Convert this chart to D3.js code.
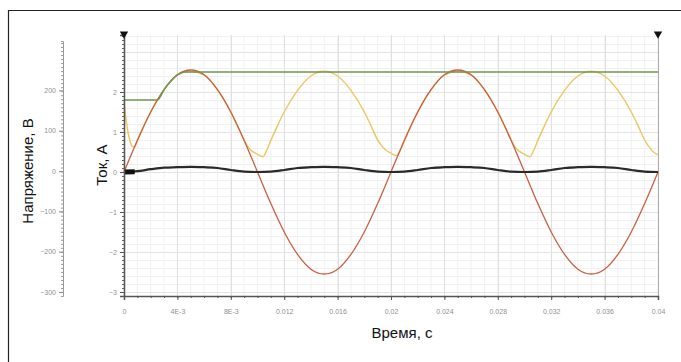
<!DOCTYPE html>
<meta charset="utf-8">
<head>
  <script src="https://d3js.org/d3.v7.min.js"></script>
  <style>
    body { margin: 0; background: #fff; font-family: 'Liberation Sans', Arial, sans-serif; }
  </style>
</head>
<div id="my_dataviz"></div>
<script>
  // ---- data ----
  // red trace (current scale), one value per millisecond
  var redTime = [0,0.001,0.002,0.003,0.004,0.005,0.006,0.007,0.008,0.009,0.01,0.011,0.012,0.013,0.014,0.015,0.016,0.017,0.018,0.019,0.02,
                 0.021,0.022,0.023,0.024,0.025,0.026,0.027,0.028,0.029,0.03,0.031,0.032,0.033,0.034,0.035,0.036,0.037,0.038,0.039,0.04];
  var redValue = [0,0.79,1.50,2.06,2.43,2.55,2.43,2.06,1.50,0.79,0,-0.79,-1.50,-2.06,-2.43,-2.55,-2.43,-2.06,-1.50,-0.79,0,
                  0.79,1.50,2.06,2.43,2.55,2.43,2.06,1.50,0.79,0,-0.79,-1.50,-2.06,-2.43,-2.55,-2.43,-2.06,-1.50,-0.79,0];

  // yellow trace
  var yellowTime = [0,0.0001,0.0002,0.0003,0.0004,0.0005,0.0006,0.0008,0.001,0.0015,0.002,0.003,0.004,0.005,0.006,0.007,0.008,0.0085,0.009,0.0093,0.0096,0.01,0.0104,
                    0.0107,0.011,0.0115,0.012,0.013,0.014,0.015,0.016,0.017,0.018,0.0185,0.019,0.0193,0.0196,0.02,0.0204,
                    0.0207,0.021,0.0215,0.022,0.023,0.024,0.025,0.026,0.027,0.028,0.0285,0.029,0.0293,0.0296,0.03,0.0304,
                    0.0307,0.031,0.0315,0.032,0.033,0.034,0.035,0.036,0.037,0.038,0.0385,0.039,0.0393,0.0396,0.04];
  var yellowValue = [1.75,1.45,1.2,1.0,0.84,0.72,0.64,0.63,0.79,1.16,1.5,2.06,2.43,2.52,2.43,2.06,1.5,1.16,0.8,0.62,0.52,0.44,0.38,
                     0.55,0.79,1.16,1.5,2.04,2.4,2.52,2.4,2.04,1.5,1.16,0.8,0.66,0.55,0.47,0.41,
                     0.55,0.79,1.16,1.5,2.06,2.43,2.52,2.43,2.06,1.5,1.16,0.8,0.62,0.52,0.44,0.38,
                     0.55,0.79,1.16,1.5,2.04,2.4,2.52,2.4,2.04,1.5,1.16,0.8,0.64,0.52,0.43];

  // green trace
  var greenTime = [0,0.0025,0.003,0.0035,0.004,0.0045,0.0048,0.04];
  var greenValue = [1.8,1.8,2.06,2.27,2.43,2.5,2.5,2.5];

  // black trace
  var blackTime = redTime;
  var blackValue = [0,0.02,0.07,0.11,0.12,0.13,0.12,0.10,0.05,0.01,0,0.01,0.05,0.10,0.12,0.13,0.12,0.10,0.05,0.01,0,
                    0.01,0.05,0.10,0.12,0.13,0.12,0.10,0.05,0.01,0,0.01,0.05,0.10,0.12,0.13,0.12,0.10,0.05,0.01,0];
  var blobTime = [0,0.0008];
  var blobValue = [0,0.005];

  // ticks
  var xTicks = [0,0.004,0.008,0.012,0.016,0.02,0.024,0.028,0.032,0.036,0.04];
  var xTickLabels = ["0","4E-3","8E-3","0.012","0.016","0.02","0.024","0.028","0.032","0.036","0.04"];
  var currentTicks = [2,1,0,-1,-2,-3];
  var voltageTicks = [200,100,0,-100,-200,-300];

  // ---- layout ----
  var W = 681, H = 362;
  var plot = { left: 124, right: 658, top: 35, bottom: 296 };

  var svg = d3.select("#my_dataviz")
    .append("svg")
    .attr("width", W)
    .attr("height", H);

  // frame
  svg.append("path")
    .attr("d", "M8.5," + H + "V10.5H" + W)
    .attr("fill", "none")
    .attr("stroke", "#222")
    .attr("stroke-width", 1.2);

  var x = d3.scaleLinear().domain([0, 0.04]).range([plot.left, plot.right]);
  var yI = d3.scaleLinear().domain([-3.1, 3.425]).range([plot.bottom, plot.top]);
  var yU = d3.scaleLinear().domain([-310, 337.5]).range([plot.bottom, plot.top]);

  // grid
  var grid = svg.append("g");
  grid.selectAll(".vmin").data(d3.range(0, 0.04001, 0.001)).enter().append("line")
    .attr("x1", function (d) { return x(d); }).attr("x2", function (d) { return x(d); })
    .attr("y1", plot.top).attr("y2", plot.bottom)
    .attr("stroke", "#f1f1f1");
  grid.selectAll(".hmin").data(d3.range(-3, 3.41, 0.2)).enter().append("line")
    .attr("y1", function (d) { return Math.round(yI(d)) + 0.5; }).attr("y2", function (d) { return Math.round(yI(d)) + 0.5; })
    .attr("x1", plot.left).attr("x2", plot.right)
    .attr("stroke", "#f1f1f1");
  grid.selectAll(".vmaj").data(xTicks).enter().append("line")
    .attr("x1", function (d) { return Math.round(x(d)) + 0.5; }).attr("x2", function (d) { return Math.round(x(d)) + 0.5; })
    .attr("y1", plot.top).attr("y2", plot.bottom)
    .attr("stroke", "#e0e0e0");
  grid.selectAll(".hmaj").data(d3.range(-3, 3.41, 1)).enter().append("line")
    .attr("y1", function (d) { return Math.round(yI(d)) + 0.5; }).attr("y2", function (d) { return Math.round(yI(d)) + 0.5; })
    .attr("x1", plot.left).attr("x2", plot.right)
    .attr("stroke", "#e4e4e4");

  // right edge of plot
  svg.append("line")
    .attr("x1", plot.right + 0.5).attr("x2", plot.right + 0.5)
    .attr("y1", plot.top).attr("y2", plot.bottom)
    .attr("stroke", "#aaa");

  // ---- traces ----
  function series(t, v) {
    return t.map(function (d, i) { return [d, v[i]]; });
  }
  var line = d3.line()
    .x(function (d) { return x(d[0]); })
    .y(function (d) { return yI(d[1]); });

  svg.append("path")
    .datum(series(yellowTime, yellowValue))
    .attr("fill", "none").attr("stroke", "#ebc966").attr("stroke-width", 1.5)
    .attr("d", line.curve(d3.curveMonotoneX));

  svg.append("path")
    .datum(series(redTime, redValue))
    .attr("fill", "none").attr("stroke", "#c95f42").attr("stroke-width", 1.3)
    .attr("d", line.curve(d3.curveCardinal));

  svg.append("path")
    .datum(series(greenTime, greenValue))
    .attr("fill", "none").attr("stroke", "#6f9752").attr("stroke-width", 1.6)
    .attr("d", line.curve(d3.curveMonotoneX));

  svg.append("path")
    .datum(series(blackTime, blackValue))
    .attr("fill", "none").attr("stroke", "#2a2a2a").attr("stroke-width", 2.2)
    .attr("d", line.curve(d3.curveMonotoneX));

  svg.append("path")
    .datum(series(blobTime, blobValue))
    .attr("fill", "none").attr("stroke", "#111").attr("stroke-width", 5)
    .attr("d", line.curve(d3.curveLinear));

  // ---- axes ----
  function styleAxis(g, col) {
    g.select(".domain").attr("stroke", col);
    g.selectAll(".tick line").attr("stroke", col);
    g.selectAll(".tick text").attr("fill", "#8f8f8f").style("font-size", "7px")
      .style("font-family", "'Liberation Sans', Arial, sans-serif");
  }

  // x axis
  var gx = svg.append("g").attr("transform", "translate(0," + plot.bottom + ")");
  gx.call(d3.axisBottom(x).tickValues(d3.range(0, 0.04001, 0.001)).tickSize(2).tickFormat(""));
  styleAxis(gx, "#555");
  var gx2 = svg.append("g").attr("transform", "translate(0," + plot.bottom + ")");
  gx2.call(d3.axisBottom(x).tickValues(xTicks).tickSize(4).tickPadding(9)
    .tickFormat(function (d, i) { return xTickLabels[i]; }));
  styleAxis(gx2, "#555");
  gx2.select(".domain").attr("stroke-width", 1.5);

  // current axis
  var gi = svg.append("g").attr("transform", "translate(" + plot.left + ",0)");
  gi.call(d3.axisLeft(yI).tickValues(d3.range(-3.1, 3.42, 0.1)).tickSize(2).tickFormat(""));
  styleAxis(gi, "#666");
  var gi2 = svg.append("g").attr("transform", "translate(" + plot.left + ",0)");
  gi2.call(d3.axisLeft(yI).tickValues(currentTicks).tickSize(4).tickPadding(3).tickFormat(d3.format("d")));
  styleAxis(gi2, "#555");
  gi2.select(".domain").attr("stroke-width", 1.5);

  // voltage axis
  var gu = svg.append("g").attr("transform", "translate(63,0)");
  gu.call(d3.axisLeft(yU.copy().domain([-310, 325]).range([plot.bottom, 41]))
    .tickValues(d3.range(-310, 321, 10)).tickSize(2).tickFormat(""));
  styleAxis(gu, "#9a9a9a");
  var gu2 = svg.append("g").attr("transform", "translate(63,0)");
  gu2.call(d3.axisLeft(yU).tickValues(voltageTicks).tickSize(4).tickPadding(3).tickFormat(d3.format("d")));
  styleAxis(gu2, "#888");
  gu2.select(".domain").remove();

  // markers at the top of the plot
  var tri = d3.symbol().type(d3.symbolTriangle).size(30);
  svg.selectAll(".marker").data([0, 0.04]).enter().append("path")
    .attr("d", tri)
    .attr("transform", function (d) { return "translate(" + x(d) + "," + (plot.top - 1) + ") rotate(180)"; })
    .attr("fill", "#111");

  // ---- titles ----
  svg.append("text")
    .attr("transform", "translate(33,171) rotate(-90)")
    .style("text-anchor", "middle")
    .style("font-size", "15px")
    .attr("fill", "#111")
    .text("Напряжение, В");

  svg.append("text")
    .attr("transform", "translate(107,165) rotate(-90)")
    .style("text-anchor", "middle")
    .style("font-size", "15px")
    .attr("fill", "#111")
    .text("Ток, А");

  svg.append("text")
    .attr("x", 402)
    .attr("y", 338)
    .style("text-anchor", "middle")
    .style("font-size", "15px")
    .attr("fill", "#111")
    .text("Время, с");
</script>
